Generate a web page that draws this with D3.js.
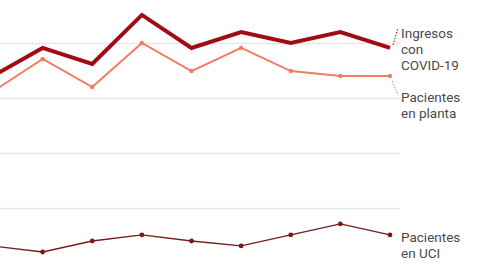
<!DOCTYPE html>
<html>
<head>
<meta charset="utf-8">
<script src="https://cdn.jsdelivr.net/npm/d3@7"></script>
<style>
  body { margin: 0; background: #fff; }
  svg { display: block; font-family: Roboto, "Noto Sans", sans-serif; }
</style>
</head>
<body>
<script>
var width = 480;
var height = 270;

// weekly points, the first one lies just left of the visible area
var weeks = ["s1", "s2", "s3", "s4", "s5", "s6", "s7", "s8", "s9"];
var ingresos = [680, 782, 724, 902, 782, 840, 800, 840, 782];
var planta   = [624, 742, 640, 800, 698, 782, 698, 680, 680];
var uci      = [62, 40, 80, 102, 80, 62, 102, 142, 102];
var gridTicks = [200, 400, 600, 800];

var x = d3.scalePoint()
  .domain(weeks)
  .range([-7, 390]);

var y = d3.scaleLinear()
  .domain([0, 1000])
  .range([263, -12]);

var svg = d3.select("body").append("svg")
  .attr("width", width)
  .attr("height", height);

// grid
svg.append("g")
  .call(d3.axisLeft(y).tickValues(gridTicks).tickSize(-400).tickFormat(""))
  .call(function (g) {
    g.select(".domain").remove();
    g.selectAll(".tick line").attr("stroke", "#e8e8e8").attr("stroke-width", 1.5);
  });

var line = d3.line()
  .x(function (d, i) { return x(weeks[i]); })
  .y(function (d) { return y(d); });

function drawSeries(data, color, w, r) {
  svg.append("path")
    .datum(data)
    .attr("fill", "none")
    .attr("stroke", color)
    .attr("stroke-width", w)
    .attr("d", line);
  if (r > 0) {
    svg.append("g").selectAll("circle").data(data).enter().append("circle")
      .attr("cx", function (d, i) { return x(weeks[i]); })
      .attr("cy", function (d) { return y(d); })
      .attr("r", r)
      .attr("fill", color);
  }
}

drawSeries(planta, "#f47c65", 2, 2.2);
drawSeries(uci, "#7a1a1a", 1.3, 2.4);
drawSeries(ingresos, "#a00c12", 4, 0);

// label connectors
var last = weeks[weeks.length - 1];
svg.append("line")
  .attr("x1", x(last) + 3).attr("y1", y(ingresos[8]) - 3)
  .attr("x2", 398).attr("y2", 28)
  .attr("stroke", "#a00c12").attr("stroke-width", 1)
  .attr("stroke-dasharray", "1.5,1.5");
svg.append("line")
  .attr("x1", x(last) + 2).attr("y1", y(planta[8]) + 5)
  .attr("x2", 398).attr("y2", 95)
  .attr("stroke", "#f47c65").attr("stroke-width", 1)
  .attr("stroke-dasharray", "1.5,1.5");

// labels
var labels = [
  { lines: ["Ingresos", "con", "COVID-19"], top: 38 },
  { lines: ["Pacientes", "en planta"], top: 102 },
  { lines: ["Pacientes", "en UCI"], top: 242 }
];

labels.forEach(function (l) {
  var t = svg.append("text")
    .attr("x", 401)
    .attr("y", l.top)
    .attr("fill", "#4a4a4a")
    .attr("font-size", 13.5);
  l.lines.forEach(function (s, i) {
    t.append("tspan").attr("x", 401).attr("dy", i === 0 ? 0 : 16).text(s);
  });
});
</script>
</body>
</html>
